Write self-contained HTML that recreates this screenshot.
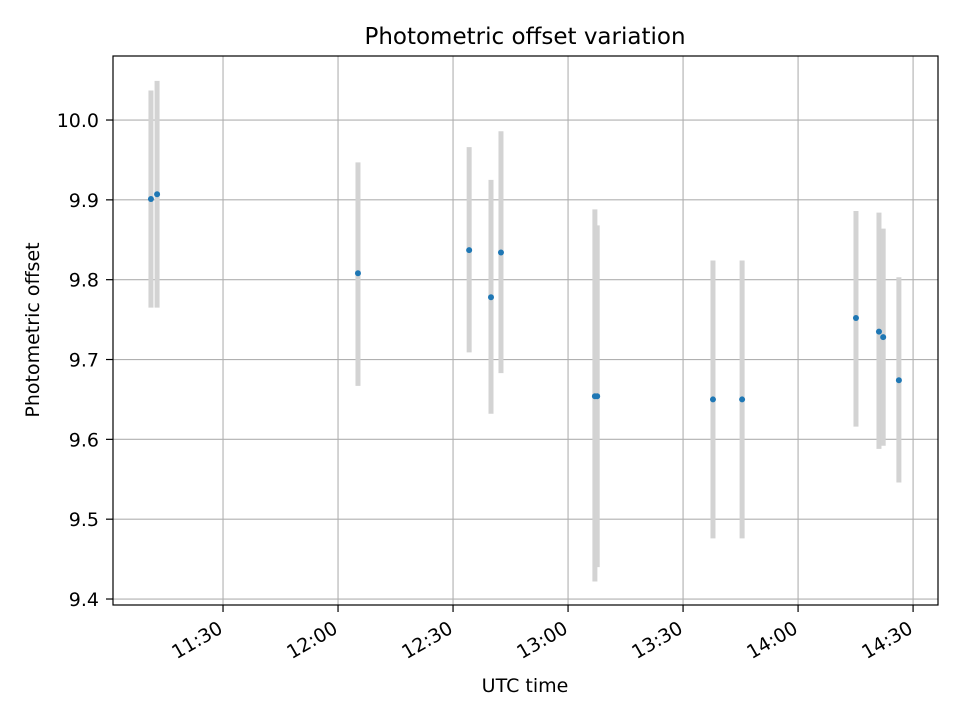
<!DOCTYPE html>
<html><head><meta charset="utf-8"><style>
html,body{margin:0;padding:0;background:#fff;}
svg{display:block;font-family:"DejaVu Sans","Liberation Sans",sans-serif;}
</style></head><body>
<svg id="chart" width="960" height="720">
<rect width="960" height="720" fill="#fff"/>
<g id="grid"></g>
<g id="errs"></g>
<g id="pts"></g>
<g id="axes"></g>
<text x="525" y="44" text-anchor="middle" font-size="23">Photometric offset variation</text>
<text x="525" y="692" text-anchor="middle" font-size="19">UTC time</text>
<text transform="translate(39,330) rotate(-90)" text-anchor="middle" font-size="19">Photometric offset</text>
</svg>
<script>
// times in minutes after 11:00 UTC
const times=[11.2,12.8,65.2,94.2,99.9,102.5,127.0,127.6,157.8,165.4,195.1,201.1,202.2,206.3];
const offsets=[9.901,9.907,9.808,9.837,9.778,9.834,9.654,9.654,9.650,9.650,9.752,9.735,9.728,9.674];
const errLow=[9.765,9.765,9.667,9.709,9.632,9.683,9.422,9.440,9.476,9.476,9.616,9.588,9.592,9.546];
const errHigh=[10.037,10.049,9.947,9.966,9.925,9.986,9.888,9.868,9.824,9.824,9.886,9.884,9.864,9.803];
const yTicks=[9.4,9.5,9.6,9.7,9.8,9.9,10.0];
const xTicks=[30,60,90,120,150,180,210];
const xTickLabels=["11:30","12:00","12:30","13:00","13:30","14:00","14:30"];

const L=113,R=938,T=56,B=605;
const xMin=1.3,xMax=216.5,yMin=9.3925,yMax=10.0802;
const x=t=>L+(t-xMin)/(xMax-xMin)*(R-L);
const y=v=>B-(v-yMin)/(yMax-yMin)*(B-T);
const NS="http://www.w3.org/2000/svg";
function mk(tag,attrs,parent){const e=document.createElementNS(NS,tag);for(const k in attrs)e.setAttribute(k,attrs[k]);parent.appendChild(e);return e;}
const grid=document.getElementById('grid'),errs=document.getElementById('errs'),pts=document.getElementById('pts'),axes=document.getElementById('axes');
yTicks.forEach((v,i)=>{
  const g=mk('line',{x1:L,x2:R,y1:y(v),y2:y(v),stroke:'#b0b0b0','stroke-width':1.1},grid);
  
  
  mk('line',{x1:L-7,x2:L,y1:y(v),y2:y(v),stroke:'#000','stroke-width':1.2},axes);
  const t=mk('text',{x:L-14,y:y(v)+7,'text-anchor':'end','font-size':19},axes);
  t.textContent=v.toFixed(1);
  
  
});
xTicks.forEach((m,i)=>{
  const px=x(m);
  const g=mk('line',{x1:px,x2:px,y1:T,y2:B,stroke:'#b0b0b0','stroke-width':1.1},grid);
  
  
  mk('line',{x1:px,x2:px,y1:B,y2:B+7,stroke:'#000','stroke-width':1.2},axes);
  const t=mk('text',{transform:`translate(${px+1},${B+27}) rotate(-30)`,'text-anchor':'end','font-size':19},axes);
  t.textContent=xTickLabels[i];
  
  
});
times.forEach((m,i)=>{
  const e=mk('line',{x1:x(m),x2:x(m),y1:y(errLow[i]),y2:y(errHigh[i]),stroke:'#d3d3d3','stroke-width':5},errs);
  
  
});
times.forEach((m,i)=>{
  const c=mk('circle',{cx:x(m),cy:y(offsets[i]),r:3,fill:'#1f77b4'},pts);
  
  
});
const f=mk('rect',{x:L,y:T,width:R-L,height:B-T,fill:'none',stroke:'#000','stroke-width':1.2},axes);


</script>
</body></html>
